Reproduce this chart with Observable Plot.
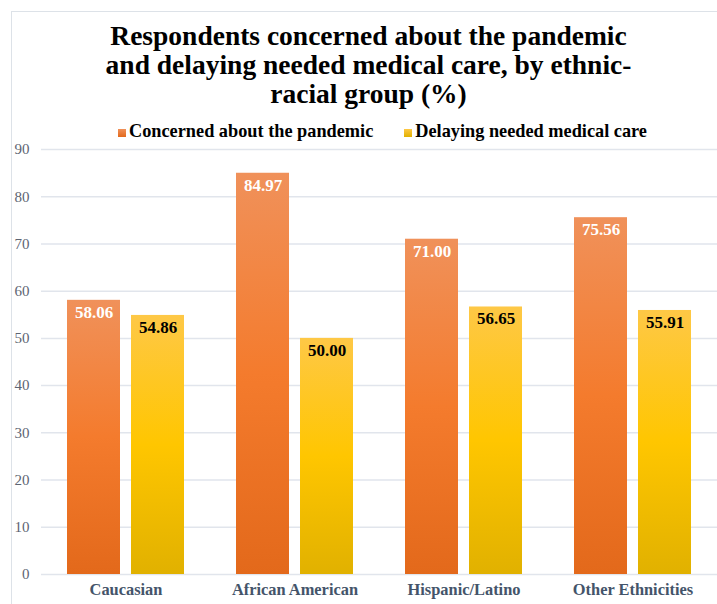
<!DOCTYPE html>
<html>
<head>
<meta charset="utf-8">
<script src="https://cdn.jsdelivr.net/npm/d3@7"></script>
<script src="https://cdn.jsdelivr.net/npm/@observablehq/plot@0.6"></script>
<style>
  html, body { margin: 0; padding: 0; background: #fff; overflow: hidden; }
  body { width: 717px; height: 604px; position: relative; font-family: "Liberation Serif", "Times New Roman", serif; }
  #frame { position: absolute; left: 11px; top: 11px; width: 760px; height: 660px; border: 1px solid #dde2e8; box-sizing: border-box; }
  #title { position: absolute; left: 0; top: 21px; width: 737px; margin: 0; text-align: center;
           font-size: 27.5px; line-height: 29px; font-weight: bold; color: #000; }
  #legend { position: absolute; left: 118px; top: 121px; height: 20px; display: flex; align-items: center; gap: 31px;
            font-size: 18.3px; font-weight: bold; color: #000; white-space: nowrap; }
  #legend .item { display: flex; align-items: center; gap: 3px; }
  #legend .sw { width: 8px; height: 8px; margin-top: 4px; }
  #chart { position: absolute; left: 0; top: 140px; }
</style>
</head>
<body>
<div id="frame"></div>
<h1 id="title">Respondents concerned about the pandemic<br>and delaying needed medical care, by ethnic-<br>racial group (%)</h1>
<div id="legend"></div>
<div id="chart"></div>
<script>
// Survey results by ethnic-racial group (%)
const categories = ["Caucasian", "African American", "Hispanic/Latino", "Other Ethnicities"];
const seriesNames = ["Concerned about the pandemic", "Delaying needed medical care"];
const concerned = [58.06, 84.97, 71.00, 75.56];
const delaying = [54.86, 50.00, 56.65, 55.91];
const yTicks = [0, 10, 20, 30, 40, 50, 60, 70, 80, 90];

// Gradient stops (top → bottom) for each series
const gradients = {
  "grad-orange": [["0%", "#f0915a"], ["50%", "#f47b2d"], ["100%", "#e3691b"]],
  "grad-yellow": [["0%", "#fec846"], ["50%", "#ffc600"], ["100%", "#e1b100"]]
};
const seriesFill = ["url(#grad-orange)", "url(#grad-yellow)"];
const swatchCss = [
  "linear-gradient(#f0915a, #e3691b)",
  "linear-gradient(#fec846, #e1b100)"
];
const labelFill = ["#ffffff", "#000000"];

const rows = categories.flatMap((group, i) => [
  {group, series: seriesNames[0], value: concerned[i]},
  {group, series: seriesNames[1], value: delaying[i]}
]);

// Legend
const legend = document.getElementById("legend");
seriesNames.forEach((name, i) => {
  const item = document.createElement("span");
  item.className = "item";
  const sw = document.createElement("span");
  sw.className = "sw";
  sw.style.background = swatchCss[i];
  const label = document.createElement("span");
  label.textContent = name;
  item.append(sw, label);
  legend.append(item);
});

const barMarks = seriesNames.map((name, i) =>
  Plot.barY(rows.filter(d => d.series === name), {
    fx: "group", x: "series", y: "value", fill: seriesFill[i]
  })
);
const labelMarks = seriesNames.map((name, i) =>
  Plot.text(rows.filter(d => d.series === name), {
    fx: "group", x: "series", y: "value",
    text: d => d.value.toFixed(2),
    dy: 12, fill: labelFill[i], fontSize: 17, fontWeight: "bold"
  })
);

const chart = Plot.plot({
  width: 717,
  height: 464,
  marginTop: 9,
  marginBottom: 30,
  marginLeft: 40,
  marginRight: 0,
  style: {fontFamily: "'Liberation Serif', 'Times New Roman', serif", background: "transparent", overflow: "visible"},
  fx: {domain: categories, padding: 0, label: null},
  x: {domain: seriesNames, paddingInner: 0.172, paddingOuter: 0.406, axis: null},
  y: {domain: [0, 90], label: null},
  marks: [
    Plot.gridY(yTicks, {stroke: "#e1e5ec", strokeOpacity: 1, strokeWidth: 1.5}),
    Plot.axisY(yTicks, {tickSize: 0, tickPadding: 12, fontSize: 15, fill: "#5d6472", label: null}),
    Plot.axisFx({anchor: "bottom", tickSize: 0, tickPadding: 9, fontSize: 16.4, fontWeight: "bold", fill: "#44546a", label: null}),
    ...barMarks,
    ...labelMarks
  ]
});

// Vertical gradient definitions used by the bars
const defs = d3.select(chart).insert("defs", ":first-child");
Object.entries(gradients).forEach(([id, stops]) => {
  const g = defs.append("linearGradient").attr("id", id)
    .attr("x1", 0).attr("y1", 0).attr("x2", 0).attr("y2", 1);
  stops.forEach(([offset, color]) => g.append("stop").attr("offset", offset).attr("stop-color", color));
});

document.getElementById("chart").append(chart);
</script>
</body>
</html>
